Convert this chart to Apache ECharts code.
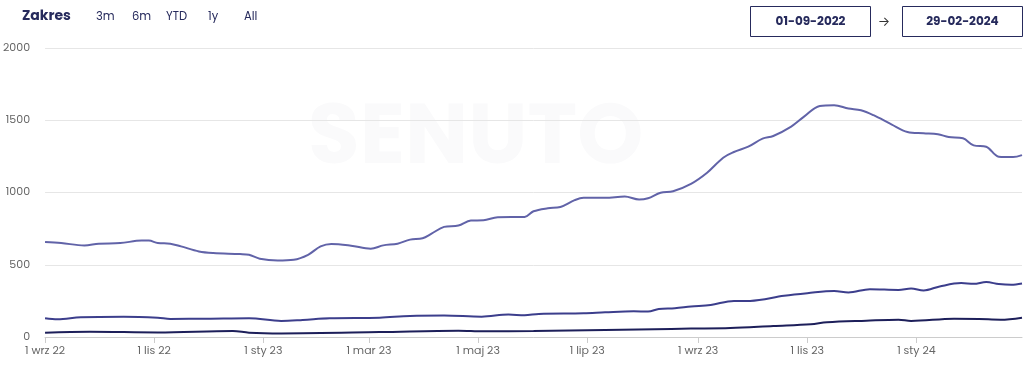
<!DOCTYPE html>
<html>
<head>
<meta charset="utf-8">
<script src="https://cdn.jsdelivr.net/npm/echarts@6/dist/echarts.min.js"></script>
<style>
  html, body { margin: 0; padding: 0; background: #fff; }
  #chart { width: 1032px; height: 370px; }
</style>
</head>
<body>
<div id="chart"></div>
<script>
// ---- data ----
const topDates = ['2022-09-01','2022-09-10','2022-09-23','2022-10-01','2022-10-13','2022-10-25','2022-10-29','2022-11-03','2022-11-10','2022-11-16','2022-11-26','2022-12-04','2022-12-19','2022-12-24','2022-12-30','2023-01-09','2023-01-18','2023-01-26','2023-02-02','2023-02-08','2023-02-19','2023-03-02','2023-03-09','2023-03-17','2023-03-24','2023-03-31','2023-04-05','2023-04-12','2023-04-20','2023-04-27','2023-05-04','2023-05-12','2023-05-27','2023-06-01','2023-06-09','2023-06-16','2023-06-24','2023-06-29','2023-07-11','2023-07-22','2023-07-30','2023-08-04','2023-08-11','2023-08-18','2023-08-28','2023-09-06','2023-09-15','2023-09-21','2023-09-29','2023-10-07','2023-10-13','2023-10-23','2023-10-30','2023-11-08','2023-11-16','2023-11-24','2023-12-01','2023-12-08','2023-12-18','2023-12-27','2024-01-05','2024-01-13','2024-01-19','2024-01-27','2024-02-02','2024-02-09','2024-02-16','2024-02-24','2024-02-29'];
const topValues = [657,650,634,646,650,667,667,650,646,627,592,581,574,569,542,530,535,569,627,644,632,611,634,646,674,683,715,762,771,806,808,829,831,870,891,900,947,963,963,972,951,960,998,1009,1060,1137,1241,1280,1317,1373,1391,1456,1523,1599,1604,1581,1569,1535,1472,1419,1410,1403,1384,1375,1326,1317,1248,1245,1259];

const midDates = ['2022-09-01','2022-09-08','2022-09-21','2022-10-15','2022-11-03','2022-11-10','2022-12-01','2022-12-24','2023-01-11','2023-01-23','2023-02-07','2023-03-07','2023-03-24','2023-04-12','2023-05-03','2023-05-18','2023-05-27','2023-06-04','2023-06-29','2023-07-11','2023-07-27','2023-08-04','2023-08-10','2023-08-19','2023-08-28','2023-09-08','2023-09-21','2023-09-30','2023-10-19','2023-11-01','2023-11-16','2023-11-24','2023-12-06','2023-12-22','2023-12-29','2024-01-05','2024-01-14','2024-01-26','2024-02-02','2024-02-09','2024-02-16','2024-02-23','2024-02-29'];
const midValues = [130,123,137,141,134,125,127,130,111,118,130,134,146,148,141,155,150,160,164,171,178,176,194,199,211,222,250,250,285,303,319,308,331,326,336,322,350,373,368,380,366,361,370];

const lowDates = ['2022-09-01','2022-09-26','2022-11-03','2022-12-15','2022-12-24','2023-01-11','2023-03-07','2023-04-20','2023-05-04','2023-06-01','2023-07-11','2023-08-17','2023-08-28','2023-09-19','2023-10-13','2023-11-03','2023-11-12','2023-12-04','2023-12-22','2023-12-29','2024-01-22','2024-02-05','2024-02-17','2024-02-29'];
const lowValues = [30,37,32,42,30,25,34,44,39,42,49,56,58,62,76,88,102,113,120,111,127,125,120,134];

const tickDates = ['2022-09-01','2022-11-01','2023-01-01','2023-03-01','2023-05-01','2023-07-01','2023-09-01','2023-11-01','2024-01-01'];
const monthNames = ['sty','lut','mar','kwi','maj','cze','lip','sie','wrz','paź','lis','gru'];
const rangeButtons = ['3m','6m','YTD','1y','All'];
const startLabel = '01-09-2022';
const endLabel = '29-02-2024';

// ---- helpers ----
function ts(s) { const p = s.split('-').map(Number); return new Date(p[0], p[1]-1, p[2]).getTime(); }
function pairs(d, v) { return d.map((x, i) => [ts(x), v[i]]); }
const FONT = 'Poppins, Inter, "Noto Sans", sans-serif';
const NAVY = '#262a5c';

const chart = echarts.init(document.getElementById('chart'), null, { renderer: 'canvas' });

const btnX = [96, 132, 166, 208, 244];
const graphics = [
  { type: 'text', left: 308, top: 100, z: 0, silent: true,
    style: { text: 'SENUTO', fontSize: 84, fontWeight: 'bold', fontFamily: FONT, fill: '#fafafb', letterSpacing: 14 } },
  { type: 'text', left: 22, top: 9, style: { text: 'Zakres', fontSize: 14, fontWeight: 'bold', fontFamily: FONT, fill: NAVY } }
];
rangeButtons.forEach((b, i) => {
  graphics.push({ type: 'text', left: btnX[i], top: 11, style: { text: b, fontSize: 11.5, fontFamily: FONT, fill: NAVY } });
});
graphics.push(
  { type: 'rect', shape: { x: 750.5, y: 6.5, width: 120, height: 30 }, style: { fill: '#fff', stroke: NAVY, lineWidth: 1 } },
  { type: 'text', x: 810.5, y: 21.5, style: { text: startLabel, fontSize: 12, fontWeight: 'bold', fontFamily: FONT, fill: NAVY, align: 'center', verticalAlign: 'middle' } },
  { type: 'text', x: 884, y: 23, style: { text: '→', fontSize: 13, fontFamily: FONT, fill: '#333', align: 'center', verticalAlign: 'middle' } },
  { type: 'rect', shape: { x: 902.5, y: 6.5, width: 120, height: 30 }, style: { fill: '#fff', stroke: NAVY, lineWidth: 1 } },
  { type: 'text', x: 962.5, y: 21.5, style: { text: endLabel, fontSize: 12, fontWeight: 'bold', fontFamily: FONT, fill: NAVY, align: 'center', verticalAlign: 'middle' } }
);

const lineSeries = (name, d, v, color, z) => ({
  name, type: 'line', data: pairs(d, v), showSymbol: false, symbol: 'none', smooth: 0.35, z,
  lineStyle: { width: 2, color }, itemStyle: { color }
});

const tickVals = tickDates.map(ts);

chart.setOption({
  animation: false,
  textStyle: { fontFamily: FONT },
  graphic: graphics,
  grid: { left: 44, right: 10, top: 48, bottom: 33, containLabel: false },
  xAxis: {
    type: 'value',
    min: ts('2022-09-01'),
    max: ts('2024-02-29'),
    axisLine: { show: true, lineStyle: { color: '#cccccc', width: 1 } },
    axisTick: { show: true, length: 6, lineStyle: { color: '#cccccc' }, customValues: tickVals },
    axisLabel: {
      color: '#666', fontSize: 11, fontFamily: FONT, margin: 9,
      customValues: tickVals,
      formatter: (val) => { const d = new Date(val); return d.getDate() + ' ' + monthNames[d.getMonth()] + ' ' + String(d.getFullYear()).slice(2); }
    },
    splitLine: { show: false }
  },
  yAxis: {
    type: 'value', min: 0, max: 2000, interval: 500,
    axisLine: { show: false }, axisTick: { show: false },
    axisLabel: { color: '#666', fontSize: 11, fontFamily: FONT, margin: 15, padding: [0, 0, 11, 0], formatter: (v) => String(v) },
    splitLine: { lineStyle: { color: '#e6e6e6', width: 1 } }
  },
  series: [
    lineSeries('top', topDates, topValues, '#6163a8', 3),
    lineSeries('mid', midDates, midValues, '#3c3e8c', 4),
    lineSeries('low', lowDates, lowValues, '#1d1f5a', 5)
  ]
});
</script>
</body>
</html>
